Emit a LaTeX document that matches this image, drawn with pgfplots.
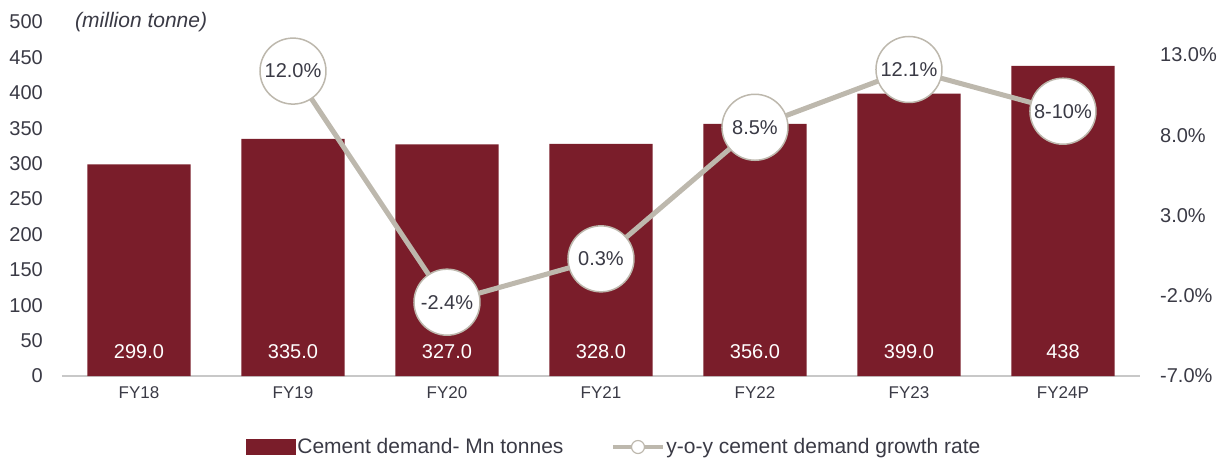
\documentclass[border=0pt]{standalone}
\usepackage{fontspec}
\setmainfont{Liberation Sans}
\usepackage{pgfplots}
\pgfplotsset{compat=1.18}
\definecolor{bar}{HTML}{7A1D2A}
\definecolor{trend}{HTML}{BDB8AD}
\definecolor{txt}{HTML}{3A3A45}
\definecolor{baseline}{HTML}{C8C8C8}
\newcommand{\lbl}{\fontsize{20bp}{24bp}\selectfont}
\newcommand{\leg}{\fontsize{21bp}{25bp}\selectfont}

\begin{document}
\begin{tikzpicture}[text=txt]
\useasboundingbox (-62bp,-85bp) rectangle (1166bp,376bp);
% left axis: demand bars
\begin{axis}[
  at={(0,0)}, anchor=south west,
  scale only axis, width=1078bp, height=354bp,
  xmin=-0.5, xmax=6.5, ymin=0, ymax=500,
  separate axis lines,
  axis x line*=bottom, axis y line*=left,
  x axis line style={draw=baseline, line width=1.5bp, -},
  y axis line style={draw=none},
  major tick length=0pt,
  xtick={0,...,6},
  xticklabels={FY18,FY19,FY20,FY21,FY22,FY23,FY24P},
  xticklabel style={font=\fontsize{17bp}{20bp}\selectfont, anchor=center, inner sep=0pt, yshift=-17bp, text=txt},
  ytick={0,50,...,500},
  yticklabel style={font=\lbl, anchor=east, inner sep=0pt, xshift=-19bp, text=txt},
  /pgf/number format/assume math mode=true,
  legend columns=2,
  legend style={draw=none, fill=none, at={(0.512,-0.2006)}, anchor=center,
    font=\leg, text=txt, nodes={inner sep=1.5bp},
    /tikz/every even column/.append style={column sep=46bp}},
]
\addplot[ybar, bar width=0.67, bar shift=0pt, fill=bar, draw=none,
  legend image code/.code={\fill[bar] (0bp,-8bp) rectangle (50bp,8bp);}]
  coordinates {(0,299) (1,335) (2,327) (3,328) (4,356) (5,399) (6,438)};
\addlegendentry{Cement demand- Mn tonnes}
\addplot[draw=none, mark=none, forget plot,
  nodes near coords, point meta=explicit symbolic,
  every node near coord/.append style={anchor=center, text=white, font=\lbl}]
  coordinates {(0,34)[299.0] (1,34)[335.0] (2,34)[327.0] (3,34)[328.0]
               (4,34)[356.0] (5,34)[399.0] (6,34)[438]};
\addlegendimage{legend image code/.code={
  \draw[trend, line width=4bp] (0bp,0bp) -- (50bp,0bp);
  \draw[trend, fill=white, line width=1.2bp] (25bp,0bp) circle (6.5bp);}}
\addlegendentry{y-o-y cement demand growth rate}
\end{axis}
% right axis: growth rate
\begin{axis}[
  at={(0,0)}, anchor=south west,
  scale only axis, width=1078bp, height=354bp,
  xmin=-0.5, xmax=6.5, ymin=-7, ymax=15.06,
  axis x line=none, axis y line*=right,
  y axis line style={draw=none},
  major tick length=0pt,
  ytick={-7,-2,3,8,13},
  yticklabels={-7.0\%,-2.0\%,3.0\%,8.0\%,13.0\%},
  yticklabel style={font=\lbl, anchor=west, inner sep=0pt, xshift=20bp, text=txt},
  clip=false,
]
\addplot[trend, line width=5bp, mark=*, mark size=33bp,
  mark options={fill=white, draw=trend, line width=1.5bp},
  nodes near coords, point meta=explicit symbolic,
  every node near coord/.append style={anchor=center, text=txt, font=\lbl}]
  coordinates {(1,12.0)[12.0\%] (2,-2.4)[-2.4\%] (3,0.3)[0.3\%]
               (4,8.5)[8.5\%] (5,12.1)[12.1\%] (6,9.5)[8-10\%]};
\end{axis}
\node[anchor=west, inner sep=0pt, font=\leg\itshape] at (13bp,354bp) {(million tonne)};
\end{tikzpicture}
\end{document}
